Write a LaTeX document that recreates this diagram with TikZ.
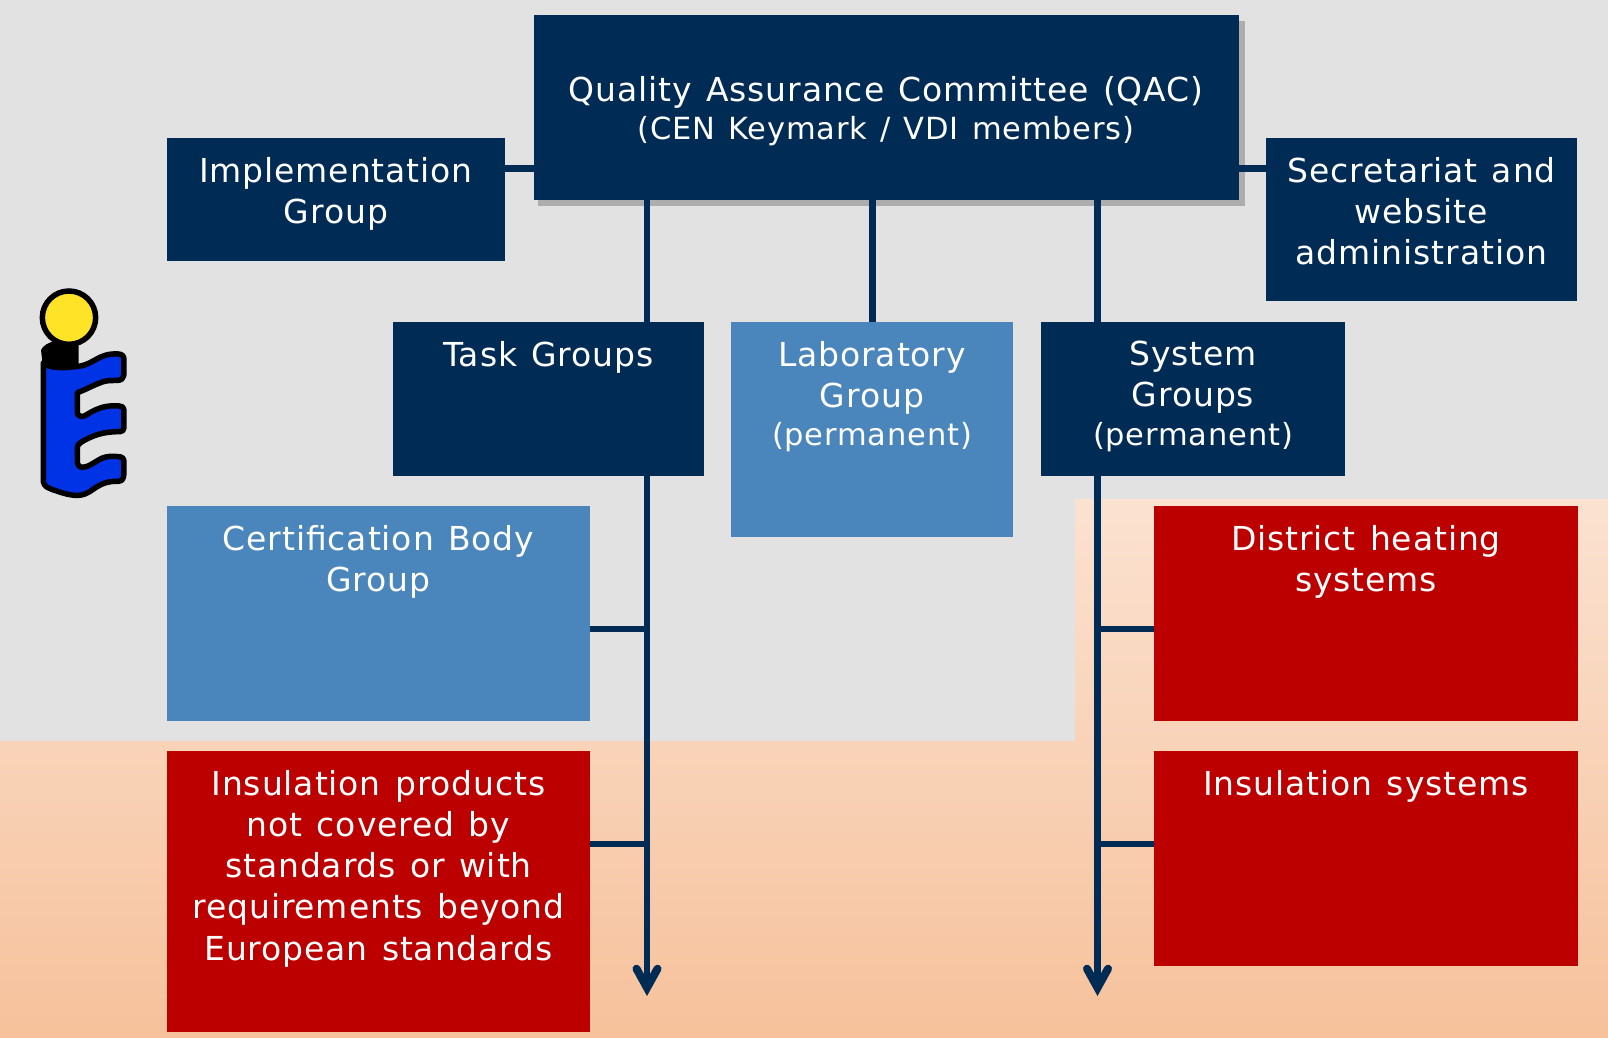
\documentclass[tikz,border=0pt]{standalone}
\usepackage{fontspec}
\setmainfont[LetterSpace=2.7,WordSpace=1.25]{DejaVu Sans}
\usetikzlibrary{arrows.meta,calc}
\definecolor{navy}{HTML}{002B55}
\definecolor{steel}{HTML}{4A86BC}
\definecolor{crimson}{HTML}{BC0000}
\definecolor{pagegray}{HTML}{E2E2E2}
\definecolor{shadowgray}{HTML}{ADADAD}
\definecolor{peachtop}{HTML}{FBE2D1}
\definecolor{peachmid}{HTML}{F7CDB1}
\definecolor{peachbot}{HTML}{F6C19B}
\definecolor{iconblue}{HTML}{0033E6}
\definecolor{iconyellow}{HTML}{FFE327}
\newcommand{\lsize}{\fontsize{33}{41.3}\selectfont}
\newcommand{\ssize}{\fontsize{30.5}{38}\selectfont}
\tikzset{
  x=1pt,y=-1pt,
  navybox/.style={fill=navy},
  steelbox/.style={fill=steel},
  redbox/.style={fill=crimson},
  lbl/.style={text=white,align=center,anchor=north,inner sep=0pt,outer sep=0pt,font=\lsize},
  link/.style={draw=navy,line width=6.5pt},
  arrowlink/.style={link,-{Straight Barb[length=19pt,width=21pt,line width=8pt,line cap=round]}},
}
% name, x0, y0, x1, y1, style
\newcommand{\rbox}[6]{\node[#6,inner sep=0pt,outer sep=0pt,minimum width=#4pt-#2pt,minimum height=#5pt-#3pt] (#1) at ({(#2+#4)/2},{(#3+#5)/2}) {};}
\begin{document}
\begin{tikzpicture}
\useasboundingbox (0,0) rectangle (1608,1038);
\fill[pagegray] (0,0) rectangle (1608,1038);
\shade[top color=peachtop,middle color=peachmid,bottom color=peachbot]
  (1075,499) -- (1608,499) -- (1608,1038) -- (0,1038) -- (0,741) -- (1075,741) -- cycle;

\fill[shadowgray] (538,21) rectangle (1245,205.5);

\coordinate (endl) at (647,996);
\coordinate (endm) at (872.5,322);
\coordinate (endr) at (1097.5,996);
\coordinate (yu) at (0,168.5);
\coordinate (yh1) at (0,629);
\coordinate (yh2) at (0,844);

\rbox{qac}{534}{15}{1239}{200}{navybox}
\rbox{impl}{167}{138}{505}{261}{navybox}
\rbox{sec}{1266}{138}{1577}{301}{navybox}
\rbox{task}{393}{322}{704}{476}{navybox}
\rbox{lab}{731}{322}{1013}{537}{steelbox}
\rbox{sys}{1041}{322}{1345}{476}{navybox}
\rbox{cert}{167}{506}{590}{721}{steelbox}
\rbox{dh}{1154}{506}{1578}{721}{redbox}
\rbox{ins}{167}{751}{590}{1032}{redbox}
\rbox{inss}{1154}{751}{1578}{966}{redbox}

\draw[link] (impl.east |- yu) -- (qac.west |- yu);
\draw[link] (qac.east |- yu) -- (sec.west |- yu);
\draw[link] (endl |- qac.south) -- (endl |- task.north);
\draw[link] (endm |- qac.south) -- (endm |- lab.north);
\draw[link] (endr |- qac.south) -- (endr |- sys.north);
\draw[arrowlink] (endl |- task.south) -- (endl);
\draw[arrowlink] (endr |- sys.south) -- (endr);
\draw[link] (cert.east |- yh1) -- (endl |- yh1);
\draw[link] (ins.east |- yh2) -- (endl |- yh2);
\draw[link] (dh.west |- yh1) -- (endr |- yh1);
\draw[link] (inss.west |- yh2) -- (endr |- yh2);

\node[lbl] (qac-t) at (886,76.5) {Quality Assurance Committee (QAC)\\[-3pt]{\ssize (CEN Keymark / VDI members)}};
\node[lbl] (impl-t) at (336,157) {Implementation\\Group};
\node[lbl] (sec-t) at (1421.5,157) {Secretariat and\\website\\administration};
\node[lbl] (task-t) at (548.5,341) {Task Groups};
\node[lbl] (lab-t) at (872,341) {Laboratory\\Group\\[-3pt]{\ssize (permanent)}};
\node[lbl] (sys-t) at (1193,341) {System\\Groups\\[-3pt]{\ssize (permanent)}};
\node[lbl] (cert-t) at (378.5,525) {Certification Body\\Group};
\node[lbl] (dh-t) at (1366,525) {District heating\\systems};
\node[lbl] (ins-t) at (378.5,770) {Insulation products\\not covered by\\standards or with\\requirements beyond\\European standards};
\node[lbl] (inss-t) at (1366,770) {Insulation systems};

\begin{scope}[shift={(20,270)},x=0.3333pt,y=-0.3333pt]
\fill[black] (63,240) .. controls (75,215) and (120,205) .. (176,205) -- (176,300) -- (70,300) -- cycle;
\draw[black,line width=5.5pt,line join=round,fill=iconblue]
 (70,278) -- (70,635) .. controls (72,650) and (85,655) .. (110,663)
 .. controls (135,672) and (170,682) .. (195,672)
 .. controls (215,665) and (230,645) .. (262,637)
 .. controls (280,632) and (296,636) .. (303,632)
 .. controls (310,628) and (312,620) .. (312,600)
 -- (312,575) .. controls (312,565) and (305,560) .. (295,560)
 .. controls (280,558) and (260,558) .. (245,565)
 .. controls (225,575) and (205,592) .. (188,592)
 .. controls (178,592) and (172,585) .. (172,575)
 -- (172,532) .. controls (172,522) and (185,515) .. (205,505)
 .. controls (235,490) and (265,485) .. (300,485)
 .. controls (308,485) and (312,480) .. (312,472)
 -- (312,420) .. controls (312,412) and (306,408) .. (298,408)
 -- (270,408) .. controls (240,410) and (215,425) .. (195,437)
 .. controls (185,443) and (172,437) .. (172,428)
 -- (172,368) .. controls (200,358) and (220,345) .. (250,335)
 .. controls (275,328) and (295,335) .. (305,328)
 .. controls (312,322) and (312,315) .. (312,300)
 -- (312,268) .. controls (312,258) and (305,252) .. (295,252)
 .. controls (265,250) and (245,258) .. (225,270)
 .. controls (205,282) and (185,290) .. (165,290)
 .. controls (130,295) and (85,295) .. (70,278) -- cycle;
\draw[black,line width=5.5pt,fill=iconyellow] (147,143) circle [radius=80];
\end{scope}
\end{tikzpicture}
\end{document}
